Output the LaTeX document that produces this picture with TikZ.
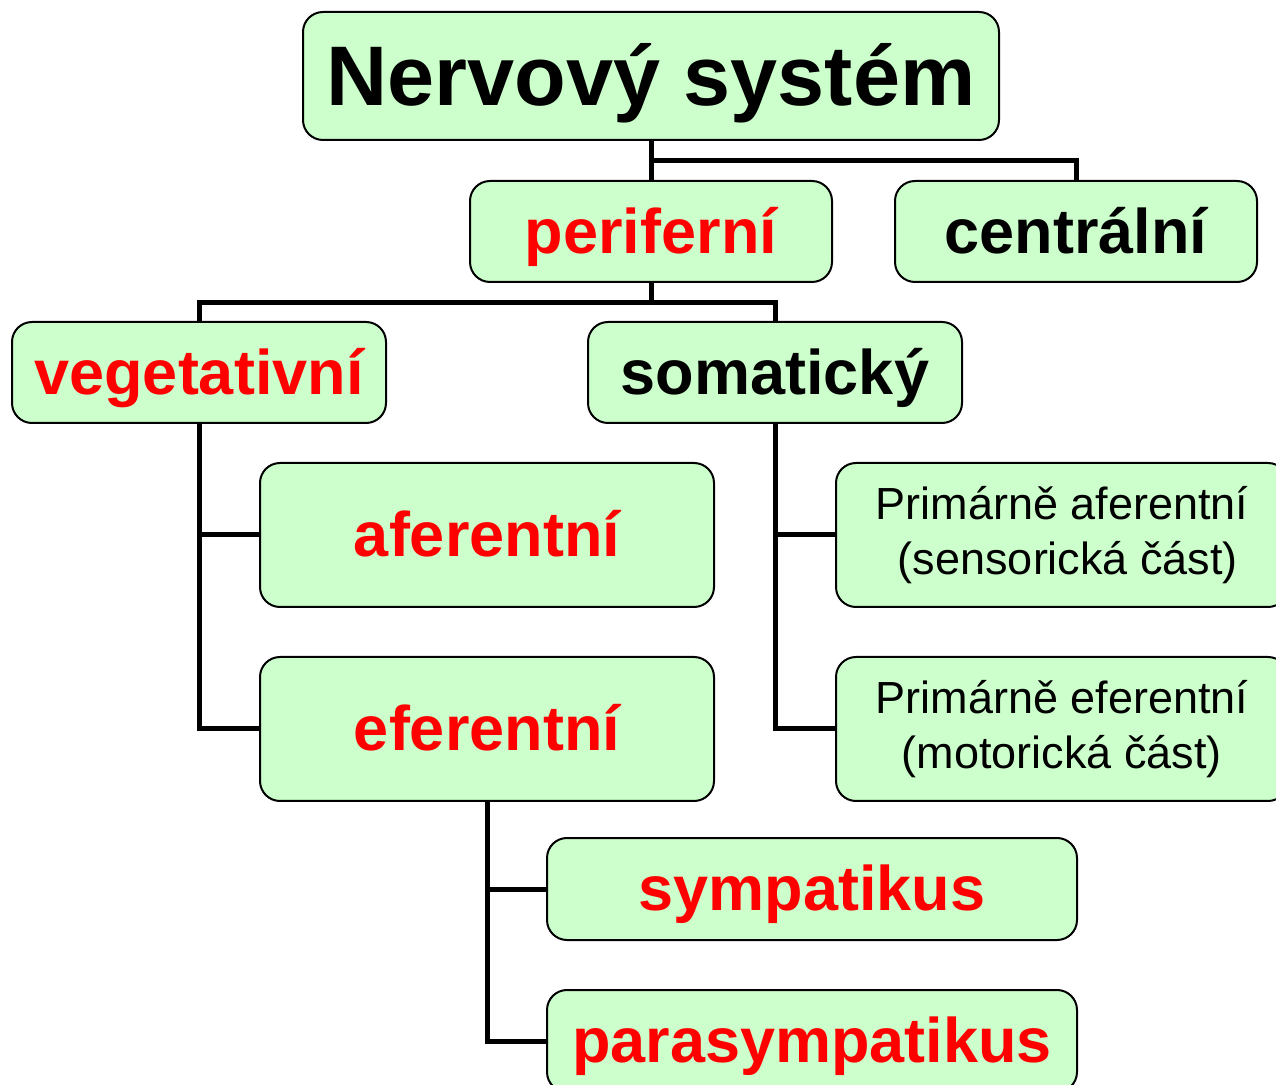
\documentclass[tikz,border=0pt]{standalone}
\usepackage{fontspec}
\setmainfont{Liberation Sans}
\usepackage{xcolor}
\usepackage{tikz}
\usetikzlibrary{positioning, calc}
\definecolor{NS_GREEN}{HTML}{CCFFCC}
\definecolor{NS_RED}{HTML}{FF0000}
\tikzset{
  box/.style={
    rectangle, rounded corners=10pt,
    text centered, align=center, inner sep=0pt,
    draw=black, line width=1pt, fill=NS_GREEN},
  headbox/.style={box,
    minimum width=348pt, minimum height=64pt,
    text height=38pt, text depth=8.9pt,
    font=\fontsize{42.3}{50}\selectfont\bfseries},
  partbox/.style={box,
    minimum width=181pt, minimum height=50.5pt,
    text height=28.5pt, text depth=6.7pt,
    font=\fontsize{31.5}{38}\selectfont\bfseries},
  branchbox/.style={partbox, minimum width=187pt},
  flowbox/.style={partbox, minimum width=227pt, minimum height=72pt},
  leafbox/.style={partbox, minimum width=265pt, minimum height=51pt},
  notebox/.style={box,
    minimum width=226pt, minimum height=72pt,
    font=\fontsize{22.5}{27.5}\selectfont},
  conn/.style={line width=2.5pt},
}

\begin{document}
\begin{tikzpicture}[x=0.5pt, y=-0.5pt]

  \useasboundingbox (0,0) rectangle (1276,1085);

  \node[headbox] (nerv) at (651,76) {Nervový systém};
  \node[partbox, text=NS_RED, below=19.5pt of nerv] (perif) {periferní};
  \node[partbox, right=30.5pt of perif] (centr) {centrální};

  \node[branchbox, text=NS_RED] (veget) at (199,372.5) {vegetativní};
  \node[branchbox] (somat) at (775,372.5) {somatický};

  \node[flowbox, text=NS_RED] (afer) at (487,535) {aferentní};
  \node[flowbox, text=NS_RED, below=24pt of afer] (efer) {eferentní};

  \node[notebox] (pafer) at (1062,535)
    {Primárně aferentní\\\hspace*{6pt}(sensorická část)};
  \node[notebox, below=24pt of pafer] (pefer)
    {Primárně eferentní\\(motorická část)};

  \node[leafbox, text=NS_RED] (sympa) at (812,889) {sympatikus};
  \node[leafbox, text=NS_RED, below=24pt of sympa] (parasym)
    {parasympatikus};

  % tree lines
  \draw[conn] (nerv.south) -- (perif.north);
  \draw[conn] ($(nerv.south)!0.5!(perif.north)$) -| (centr.north);

  \draw[conn] (perif.south) -- ++(0,20) coordinate (psplit);
  \draw[conn] (veget.north) |- (psplit) -| (somat.north);

  \draw[conn] (veget.south) |- (efer.west);
  \draw[conn] (veget.south |- afer.west) -- (afer.west);

  \draw[conn] (somat.south) |- (pefer.west);
  \draw[conn] (somat.south |- pafer.west) -- (pafer.west);

  \draw[conn] (efer.south) |- (parasym.west);
  \draw[conn] (efer.south |- sympa.west) -- (sympa.west);

\end{tikzpicture}
\end{document}
